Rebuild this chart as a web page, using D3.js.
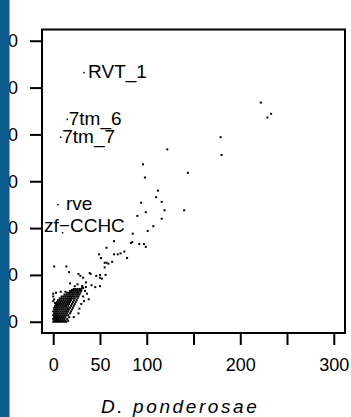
<!DOCTYPE html>
<html><head><meta charset="utf-8">
<script src="https://cdn.jsdelivr.net/npm/d3@7"></script>
<style>
html,body{margin:0;padding:0;background:#fff;}
svg{display:block;font-family:"Liberation Sans",Arial,sans-serif;}
</style></head>
<body><svg id="c" width="351" height="417"></svg>
<script>
// ---- data ----
const xTickValues = [0, 50, 100, 150, 200, 250, 300];
const xTickLabels = ["0", "50", "100", "", "200", "", "300"];
const yTickValues = [0, 50, 100, 150, 200, 250, 300];
const yTickLabels = ["0", "50", "100", "150", "200", "250", "300"];
const xTitle = "D. ponderosae";

// scattered gene families [x, y]
const scatterPoints = [
 [222,234],[233,222],[229,218],[179,197],[180,178],[144,159],[140,119],[122,184],
 [96,168],[98,154],[112,140],[110,133],[116,128],[94,127],[99,117],[119,119],
 [90,113],[116,110],[107,102],[85,94],[101,97],[65,86],[83,84],[84.5,85],[92,83],
 [97,83],[99,80],[57,79],[76,75],[72,73],[69,72],[65,72],[49,72],[51,68],[79,68],
 [55,63],[57,63],[59,62],[63,64],[55,58],[1,59],[14,59],[17,53],[27,51],[29,49],
 [39,52],[40,51],[46,49],[50,50],[56,50],[32,47],[35,42],[50,47],[52,46],[18,41],
 [41,39],[45,37],[50,38],[35,37],[3,31],[0,30],[8,32],[13,32],[20,34],[29,34],
 [26,31],[32,36],[38,24],[32,27],[30,19],[28,14],[16,14],[16,1],[13,1],
 [0,27],[1,24],[0,22],[2,20],[23,38],[26,40],[31,38],[34,33],[36,30],[33,22],[27,9],[22,5]
];

// dense cluster of small families [x, y]
const clusterPoints = [
 [0,0],[2,0],[4,0],[6,0],[8,0],[10,0],[12,0],[14,0],
 [1,1],[3,1],[5,1],[7,1],[9,1],[11,1],
 [0,3],[2,3],[4,3],[6,3],[8,3],[10,3],[12,3],[15,3],
 [1,5],[3,5],[5,5],[7,5],[9,5],[11,5],[13,5],[17,5],
 [0,7],[2,7],[4,7],[6,7],[8,7],[10,7],[12,7],[14,7],[16,7],
 [1,9],[3,9],[5,9],[7,9],[9,9],[11,9],[13,9],[15,9],[18,9],
 [0,11],[2,11],[4,11],[6,11],[8,11],[10,11],[12,11],[14,11],[16,11],[19,11],
 [1,13],[3,13],[5,13],[7,13],[9,13],[11,13],[13,13],[15,13],[17,13],[20,13],
 [1,15],[3,15],[5,15],[7,15],[9,15],[11,15],[13,15],[15,15],[18,15],[21,15],
 [2,17],[4,17],[6,17],[8,17],[10,17],[12,17],[14,17],[16,17],[19,17],[22,17],
 [3,19],[5,19],[7,19],[9,19],[11,19],[13,19],[15,19],[17,19],[20,19],[23,19],
 [4,21],[6,21],[8,21],[10,21],[12,21],[14,21],[16,21],[18,21],[21,21],[24,21],
 [5,23],[7,23],[9,23],[11,23],[13,23],[15,23],[17,23],[19,23],[22,23],[25,23],
 [7,25],[9,25],[11,25],[13,25],[15,25],[17,25],[19,25],[21,25],[23,25],[26,25],
 [9,27],[11,27],[13,27],[15,27],[17,27],[19,27],[21,27],[23,27],[25,27],[27,27],
 [12,29],[14,29],[16,29],[18,29],[20,29],[22,29],[24,29],[26,29],[28,29],
 [15,31],[17,31],[19,31],[21,31],[23,31],[25,31],[27,31],[29,31],
 [18,33],[20,33],[22,33],[24,33],[26,33],[28,33],[30,33],
 [22,35],[24,35],[26,35],[28,35],[30,35],[31,37]
];

// labelled families
const labelNames = ["RVT_1", "7tm_6", "7tm_7", "rve", "zf\u2212CCHC"];
const labelX = [33, 15, 8, 5, 10];
const labelY = [266, 216, 197, 125, 95];

// ---- layout ----
const svg = d3.select("#c");
const L = 42, R = 345, T = 29.5, B = 333;
const x = d3.scaleLinear().domain([-12, 312]).range([L, R]);
const y = d3.scaleLinear().domain([-12, 312]).range([B, T]);
const labelDx = [4, 1.5, 1.5, 8, -18.5];
const labelDy = [5.5, 6, 6, 5, -1];

// points
const allPts = scatterPoints.concat(clusterPoints);
svg.append("g").selectAll("rect").data(allPts).join("rect")
  .attr("x", d => x(d[0]) - 1).attr("y", d => y(d[1]) - 1)
  .attr("width", 2).attr("height", 2).attr("fill", "#000");

// labelled points + text
const lab = svg.append("g");
lab.selectAll("rect").data(labelNames).join("rect")
  .attr("x", (d, i) => x(labelX[i]) - 0.75).attr("y", (d, i) => y(labelY[i]) - 0.75)
  .attr("width", 1.5).attr("height", 1.5).attr("fill", "#000");
lab.selectAll("text").data(labelNames).join("text")
  .attr("x", (d, i) => x(labelX[i]) + labelDx[i])
  .attr("y", (d, i) => y(labelY[i]) + labelDy[i])
  .attr("font-size", 19).attr("fill", "#000").text(d => d);

// axes
const xAxis = d3.axisBottom(x).tickValues(xTickValues).tickSize(12).tickPadding(13)
  .tickFormat((d, i) => xTickLabels[i]);
const gx = svg.append("g").attr("transform", `translate(0,${B})`).call(xAxis);
const yAxis = d3.axisLeft(y).tickValues(yTickValues).tickSize(12).tickPadding(12)
  .tickFormat((d, i) => yTickLabels[i]);
const gy = svg.append("g").attr("transform", `translate(${L},0)`).call(yAxis);
[gx, gy].forEach(g => {
  g.select(".domain").remove();
  g.selectAll(".tick line").attr("stroke", "#000").attr("stroke-width", 2);
  g.selectAll(".tick text").attr("font-size", 18).attr("fill", "#000")
    .attr("font-family", '"Liberation Sans",Arial,sans-serif');
});

// frame
svg.append("rect").attr("x", L).attr("y", T).attr("width", R - L).attr("height", B - T)
  .attr("fill", "none").attr("stroke", "#000").attr("stroke-width", 2);

// axis title
svg.append("text").attr("x", 101).attr("y", 413)
  .attr("font-size", 19).attr("font-style", "italic").attr("letter-spacing", 2.6)
  .attr("fill", "#000").text(xTitle);

// blue side strip
svg.append("rect").attr("x", 0).attr("y", 0).attr("width", 9.5).attr("height", 417)
  .attr("fill", "#0b5b8c");
</script></body></html>
